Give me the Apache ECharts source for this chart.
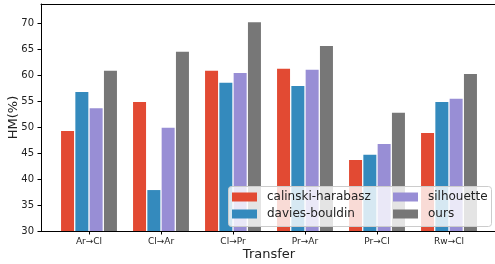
<!DOCTYPE html>
<html>
<head>
<meta charset="utf-8">
<script src="https://cdn.jsdelivr.net/npm/echarts@6/dist/echarts.min.js"></script>
<style>
  html, body { margin: 0; padding: 0; background: #fff; overflow: hidden; }
  /* a bit wider than the window: the plot runs past the right edge, as in the source */
  #chart { width: 505px; height: 264px; }
</style>
</head>
<body>
<div id="chart"></div>
<script>
// HM(%) per transfer task, one array per model-selection criterion
const transfers = ['Ar→Cl', 'Cl→Ar', 'Cl→Pr', 'Pr→Ar', 'Pr→Cl', 'Rw→Cl'];
const calinski = [49.3, 54.9, 60.9, 61.3, 43.7, 48.9];
const davies = [56.8, 37.9, 58.6, 58.0, 44.7, 54.9];
const silhouette = [53.7, 49.9, 60.5, 61.1, 46.8, 55.5];
const ours = [60.9, 64.6, 70.3, 65.7, 52.8, 60.3];
const yTicks = [30, 35, 40, 45, 50, 55, 60, 65, 70];

const names = ['calinski-harabasz', 'davies-bouldin', 'silhouette', 'ours'];
const colors = ['#E24A33', '#348ABD', '#988ED5', '#777777'];
const FONT = 'DejaVu Sans';

const chart = echarts.init(document.getElementById('chart'), null, { renderer: 'canvas' });

const bar = (name, data, i) => ({
  name, type: 'bar', data, xAxisIndex: 1, yAxisIndex: 1,
  barWidth: 13, barGap: '10%',
  itemStyle: { color: colors[i] },
});

const legendCommon = {
  orient: 'vertical', top: 191, padding: 0, itemWidth: 25, itemHeight: 9, itemGap: 5,
  icon: 'rect', selectedMode: false,
  textStyle: { fontFamily: FONT, fontSize: 12, color: '#222', lineHeight: 12, padding: [0, 0, 0, 5] },
};

const spine = { show: true, onZero: false, lineStyle: { color: '#000', width: 1 } };

chart.setOption({
  animation: false,
  color: colors,
  // grid 0 = spines + y ticks, grid 1 = bar area (matplotlib x margins)
  grid: [
    { left: 41, right: 8, top: 4, bottom: 33, outerBoundsMode: 'none' },
    { left: 53, right: 20, top: 4, bottom: 33, outerBoundsMode: 'none' },
  ],
  xAxis: [
    { gridIndex: 0, type: 'value', min: 0, max: 1, axisLine: spine, axisTick: { show: false }, axisLabel: { show: false }, splitLine: { show: false } },
    {
      gridIndex: 1, type: 'category', data: transfers,
      axisLine: { show: false },
      axisTick: { show: true, alignWithLabel: true, length: 3.5, lineStyle: { color: '#000' } },
      axisLabel: { fontFamily: FONT, fontSize: 9, color: '#222', margin: 6 },
      name: 'Transfer', nameLocation: 'middle', nameGap: 17, nameMoveOverlap: false,
      nameTextStyle: { fontFamily: FONT, fontSize: 13, color: '#222' },
    },
    { gridIndex: 0, type: 'value', position: 'top', min: 0, max: 1, axisLine: spine, axisTick: { show: false }, axisLabel: { show: false }, splitLine: { show: false } },
  ],
  yAxis: [
    {
      gridIndex: 0, type: 'value', min: 30, max: 73.8, interval: 5,
      axisLine: spine,
      axisTick: { show: true, length: 3.5, customValues: yTicks, lineStyle: { color: '#000' } },
      axisLabel: { fontFamily: FONT, fontSize: 10, color: '#222', margin: 7, customValues: yTicks },
      splitLine: { show: false },
      name: 'HM(%)', nameLocation: 'middle', nameRotate: 90, nameGap: 21, nameMoveOverlap: false,
      nameTextStyle: { fontFamily: FONT, fontSize: 13, color: '#222' },
    },
    { gridIndex: 1, type: 'value', min: 30, max: 73.8, show: false },
  ],
  legend: [
    Object.assign({ left: 232, data: names.slice(0, 2) }, legendCommon),
    Object.assign({ left: 393, data: names.slice(2) }, legendCommon),
  ],
  graphic: [{
    type: 'rect', z: 3,
    shape: { x: 228.5, y: 186.5, width: 263, height: 40, r: 3 },
    style: { fill: 'rgba(255,255,255,0.8)', stroke: '#cccccc', lineWidth: 1 },
  }],
  series: [
    bar(names[0], calinski, 0),
    bar(names[1], davies, 1),
    bar(names[2], silhouette, 2),
    bar(names[3], ours, 3),
  ],
});
</script>
</body>
</html>
